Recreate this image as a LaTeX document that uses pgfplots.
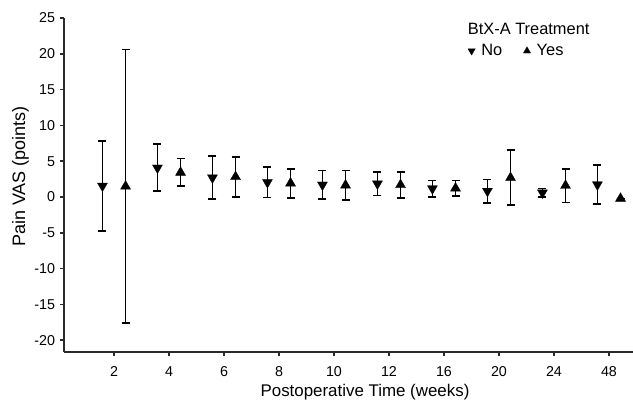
\documentclass[border=0pt]{standalone}
\usepackage{fontspec}
\setmainfont{Liberation Sans}
\usepackage{pgfplots}
\pgfplotsset{compat=1.18}
\definecolor{axisgray}{HTML}{2A2A2A}

\begin{document}
\begin{tikzpicture}
\useasboundingbox (-64.3pt,-50.3pt) rectangle (568.7pt,351.7pt);
\begin{axis}[
  scale only axis,
  width=594.4pt, height=333.7pt,
  xmin=-0.904, xmax=9.904,
  ymin=-21.6, ymax=25,
  axis lines=left,
  axis line style={draw=axisgray, line width=1.6pt, -},
  tick style={draw=axisgray, line width=1.5pt},
  tick align=outside,
  major tick length=4pt,
  xtick={0,...,9},
  xticklabels={2,4,6,8,10,12,16,20,24,48},
  ytick={-20,-15,...,25},
  /pgf/number format/assume math mode=true,
  ticklabel style={font=\fontsize{14.3}{16}\selectfont},
  xticklabel style={anchor=north, inner sep=0pt, yshift=-11pt},
  yticklabel style={anchor=east, inner sep=0pt, xshift=-5pt},
  xlabel={Postoperative Time (weeks)},
  ylabel={Pain VAS (points)},
  xlabel style={font=\fontsize{16.9}{19}\selectfont, at={(axis description cs:0.5059,-0.1357)}, anchor=base},
  ylabel style={font=\fontsize{18}{20}\selectfont, at={(axis description cs:-0.0737,0.525)}, anchor=center},
  legend columns=2,
  legend style={draw=none, fill=none, font=\fontsize{16.4}{19}\selectfont,
    at={(axis description cs:0.672,0.93)}, anchor=north west,
    nodes={inner sep=1pt},
    /tikz/every even column/.append style={column sep=19pt}},
  legend image code/.code={\draw[#1, mark size=4.2pt] plot coordinates {(0pt,0pt)}; \path (-4.5pt,0pt) (8.5pt,0pt);},
]
\addplot[only marks, mark=triangle*, mark size=5.8pt,
  mark options={rotate=180, fill=black, draw=black, line width=0.3pt},
  error bars/.cd, y dir=both, y explicit,
  error bar style={line width=1.7pt, black},
  error mark options={rotate=90, mark size=4pt, line width=1.7pt, black}]
  table[x=x, y=y, y error=e] {
  x      y     e
  -0.21  1.55  6.25
  0.79   4.08  3.28
  1.79   2.70  3.00
  2.79   2.05  2.10
  3.79   1.70  2.00
  4.79   1.85  1.65
  5.79   1.18  1.13
  6.79   0.83  1.63
  7.79   0.60  0.60
  8.79   1.73  2.73
};
\addlegendentry{No}
\addplot[only marks, mark=triangle*, mark size=5.8pt,
  mark options={fill=black, draw=black, line width=0.3pt},
  error bars/.cd, y dir=both, y explicit,
  error bar style={line width=1.7pt, black},
  error mark options={rotate=90, mark size=4pt, line width=1.7pt, black}]
  table[x=x, y=y, y error=e] {
  x      y     e
  0.21   1.50  19.10
  1.21   3.43  1.93
  2.21   2.83  2.78
  3.21   1.93  2.03
  4.21   1.65  2.05
  5.21   1.70  1.80
  6.21   1.23  1.08
  7.21   2.70  3.85
  8.21   1.60  2.35
  9.21  -0.20  0.00
};
\addlegendentry{Yes}
\node[anchor=base west, font=\fontsize{16.4}{19}\selectfont, inner sep=0pt] at (axis description cs:0.6787,0.9491) {BtX-A Treatment};
\end{axis}
\end{tikzpicture}
\end{document}
